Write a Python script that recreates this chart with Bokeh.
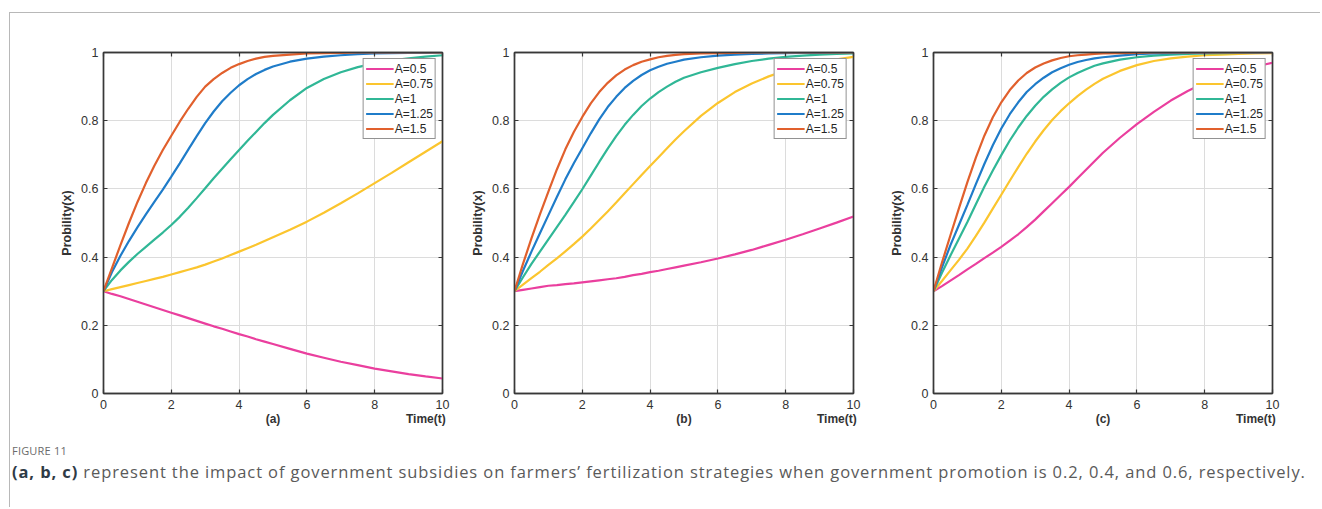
from bokeh.plotting import figure
from bokeh.models import (Range1d, FixedTicker, NumeralTickFormatter, LinearAxis,
                          Div, Column, Row)
from bokeh.embed import file_html
from bokeh.resources import INLINE

# ---------------- data ----------------
T = [0, 0.25, 0.5, 0.75, 1, 1.25, 1.5, 1.75, 2, 2.25, 2.5, 2.75, 3, 3.25, 3.5, 3.75,
     4, 4.25, 4.5, 4.75, 5, 5.5, 6, 6.5, 7, 7.5, 8, 8.5, 9, 9.5, 10]
LABELS = ["A=0.5", "A=0.75", "A=1", "A=1.25", "A=1.5"]
COLORS = ["#EA3F9E", "#FBC52E", "#30B796", "#1F7CC9", "#E1602D"]
X_TICKS = [0, 2, 4, 6, 8, 10]
Y_TICKS = [0, 0.2, 0.4, 0.6, 0.8, 1]
PANEL_TAGS = ["(a)", "(b)", "(c)"]
X_TITLE = "Time(t)"
Y_TITLE = "Probility(x)"

# panel (a): government promotion 0.2
a_05 = [0.300, 0.292, 0.285, 0.277, 0.269, 0.261, 0.253, 0.245, 0.237, 0.229, 0.221,
        0.213, 0.205, 0.197, 0.190, 0.182, 0.174, 0.167, 0.159, 0.152, 0.145,
        0.131, 0.117, 0.105, 0.093, 0.083, 0.073, 0.065, 0.057, 0.050, 0.044]
a_075 = [0.300, 0.306, 0.312, 0.318, 0.324, 0.330, 0.336, 0.342, 0.349, 0.356, 0.363,
         0.370, 0.378, 0.387, 0.396, 0.406, 0.416, 0.426, 0.436, 0.447, 0.458,
         0.480, 0.504, 0.530, 0.558, 0.587, 0.617, 0.647, 0.678, 0.709, 0.740]
a_1 = [0.300, 0.333, 0.361, 0.386, 0.409, 0.430, 0.451, 0.472, 0.494, 0.518, 0.545,
       0.573, 0.602, 0.631, 0.659, 0.687, 0.714, 0.741, 0.767, 0.793, 0.817,
       0.860, 0.896, 0.922, 0.942, 0.957, 0.968, 0.977, 0.983, 0.988, 0.992]
a_125 = [0.300, 0.356, 0.404, 0.447, 0.487, 0.525, 0.562, 0.598, 0.636, 0.675, 0.715,
         0.755, 0.793, 0.827, 0.857, 0.882, 0.904, 0.922, 0.937, 0.949, 0.959,
         0.973, 0.982, 0.988, 0.992, 0.995, 0.997, 0.998, 0.999, 0.999, 1.000]
a_15 = [0.300, 0.368, 0.435, 0.500, 0.561, 0.617, 0.668, 0.714, 0.756, 0.797, 0.835,
        0.870, 0.900, 0.922, 0.940, 0.955, 0.966, 0.975, 0.982, 0.987, 0.990,
        0.994, 0.997, 0.998, 0.999, 1.000, 1.000, 1.000, 1.000, 1.000, 1.000]

# panel (b): government promotion 0.4
b_05 = [0.300, 0.304, 0.308, 0.312, 0.316, 0.318, 0.321, 0.323, 0.326, 0.329, 0.332,
        0.335, 0.338, 0.342, 0.347, 0.351, 0.356, 0.360, 0.365, 0.370, 0.375,
        0.385, 0.396, 0.408, 0.421, 0.436, 0.451, 0.467, 0.484, 0.501, 0.519]
b_075 = [0.300, 0.319, 0.338, 0.357, 0.377, 0.396, 0.417, 0.438, 0.460, 0.484, 0.509,
         0.534, 0.560, 0.587, 0.614, 0.641, 0.667, 0.693, 0.719, 0.745, 0.769,
         0.814, 0.852, 0.884, 0.909, 0.930, 0.947, 0.960, 0.971, 0.980, 0.987]
b_1 = [0.300, 0.341, 0.380, 0.416, 0.452, 0.488, 0.524, 0.561, 0.599, 0.639, 0.679,
       0.718, 0.755, 0.788, 0.817, 0.843, 0.865, 0.884, 0.900, 0.914, 0.926,
       0.942, 0.955, 0.966, 0.975, 0.982, 0.987, 0.991, 0.994, 0.996, 0.997]
b_125 = [0.300, 0.360, 0.416, 0.470, 0.523, 0.576, 0.628, 0.675, 0.719, 0.763, 0.804,
         0.840, 0.870, 0.896, 0.917, 0.934, 0.948, 0.958, 0.967, 0.973, 0.979,
         0.986, 0.991, 0.994, 0.996, 0.997, 0.998, 0.999, 0.999, 1.000, 1.000]
b_15 = [0.300, 0.380, 0.455, 0.525, 0.592, 0.657, 0.716, 0.767, 0.811, 0.851, 0.884,
        0.911, 0.933, 0.950, 0.963, 0.973, 0.980, 0.986, 0.990, 0.993, 0.995,
        0.997, 0.998, 0.999, 1.000, 1.000, 1.000, 1.000, 1.000, 1.000, 1.000]

# panel (c): government promotion 0.6
c_05 = [0.300, 0.315, 0.331, 0.347, 0.364, 0.380, 0.397, 0.413, 0.430, 0.448, 0.467,
        0.488, 0.510, 0.534, 0.558, 0.582, 0.606, 0.631, 0.656, 0.681, 0.706,
        0.750, 0.790, 0.826, 0.859, 0.887, 0.911, 0.930, 0.946, 0.959, 0.970]
c_075 = [0.300, 0.330, 0.361, 0.392, 0.425, 0.462, 0.501, 0.542, 0.583, 0.624, 0.664,
         0.703, 0.739, 0.772, 0.802, 0.828, 0.851, 0.872, 0.891, 0.908, 0.923,
         0.946, 0.963, 0.975, 0.983, 0.988, 0.992, 0.994, 0.996, 0.997, 0.998]
c_1 = [0.300, 0.354, 0.405, 0.454, 0.503, 0.555, 0.606, 0.654, 0.699, 0.742, 0.780,
       0.814, 0.844, 0.870, 0.892, 0.911, 0.927, 0.940, 0.951, 0.961, 0.968,
       0.979, 0.986, 0.991, 0.994, 0.996, 0.997, 0.998, 0.999, 0.999, 1.000]
c_125 = [0.300, 0.370, 0.435, 0.494, 0.553, 0.614, 0.673, 0.728, 0.777, 0.819, 0.854,
         0.884, 0.907, 0.926, 0.942, 0.954, 0.964, 0.972, 0.978, 0.983, 0.986,
         0.991, 0.995, 0.997, 0.998, 0.999, 0.999, 1.000, 1.000, 1.000, 1.000]
c_15 = [0.300, 0.384, 0.464, 0.543, 0.620, 0.692, 0.756, 0.810, 0.854, 0.890, 0.918,
        0.940, 0.956, 0.968, 0.977, 0.984, 0.989, 0.992, 0.994, 0.996, 0.997,
        0.998, 0.999, 1.000, 1.000, 1.000, 1.000, 1.000, 1.000, 1.000, 1.000]

PANELS = [[a_05, a_075, a_1, a_125, a_15],
          [b_05, b_075, b_1, b_125, b_15],
          [c_05, c_075, c_1, c_125, c_15]]

CAPTION_HEAD = "FIGURE 11"
CAPTION_BOLD = "(a, b, c)"
CAPTION_TEXT = (" represent the impact of government subsidies on farmers\u2019 fertilization "
                "strategies when government promotion is 0.2, 0.4, and 0.6, respectively.")

# ---------------- styling ----------------
AX = "#383838"
TICK_FONT = "Liberation Sans"
LEFT_BORDERS = [93, 62, 70]
RIGHT_BORDERS = [10, 10, 30]


def style_axis(ax, ticks, show_labels=True):
    ax.ticker = FixedTicker(ticks=ticks)
    ax.formatter = NumeralTickFormatter(format="0.[0]")
    ax.major_tick_in = 4
    ax.major_tick_out = 0
    ax.minor_tick_line_color = None
    ax.axis_line_color = AX
    ax.axis_line_width = 1.4
    ax.major_tick_line_color = AX
    ax.major_tick_line_width = 1.2
    ax.major_label_text_font = TICK_FONT
    ax.major_label_text_color = "#333333"
    ax.major_label_text_font_size = "12.5px"
    if not show_labels:
        ax.major_label_text_color = None
        ax.major_label_text_font_size = "0px"
        ax.major_label_standoff = 0


def make_panel(series, tag, lb, rb):
    p = figure(frame_width=339, frame_height=341,
               min_border_left=lb, min_border_right=rb,
               min_border_top=39, min_border_bottom=40,
               x_range=Range1d(0, 10), y_range=Range1d(0, 1),
               output_backend="svg", toolbar_location=None, tools="",
               background_fill_color="white", border_fill_color="white",
               outline_line_color=AX, outline_line_width=1.4)
    p.grid.grid_line_color = "#dcdcdc"
    p.grid.grid_line_width = 1
    p.xgrid.ticker = FixedTicker(ticks=X_TICKS)
    p.ygrid.ticker = FixedTicker(ticks=Y_TICKS)

    for ys, lab, col in zip(series, LABELS, COLORS):
        p.line(T, ys, line_color=col, line_width=2.2, legend_label=lab)

    style_axis(p.xaxis[0], X_TICKS)
    style_axis(p.yaxis[0], Y_TICKS)
    p.xaxis.major_label_standoff = 6
    p.yaxis.major_label_standoff = 5
    p.yaxis.axis_label = Y_TITLE
    p.yaxis.axis_label_standoff = 4
    p.yaxis.axis_label_text_font = TICK_FONT
    p.yaxis.axis_label_text_font_style = "bold"
    p.yaxis.axis_label_text_font_size = "12.5px"
    p.yaxis.axis_label_text_color = "#333333"

    # second row under the x axis: panel tag centred, "Time(t)" near the right end
    names = LinearAxis(ticker=FixedTicker(ticks=[5, 9.51]),
                       major_label_overrides={5: tag, 9.51: X_TITLE},
                       axis_line_color=None, major_tick_line_color=None,
                       minor_tick_line_color=None, major_tick_in=0, major_tick_out=0,
                       major_label_standoff=0,
                       major_label_text_font=TICK_FONT,
                       major_label_text_font_style="bold",
                       major_label_text_font_size="12px",
                       major_label_text_color="#333333")
    p.add_layout(names, "below")

    top = LinearAxis()
    style_axis(top, X_TICKS, show_labels=False)
    p.add_layout(top, "above")
    right = LinearAxis()
    style_axis(right, Y_TICKS, show_labels=False)
    p.add_layout(right, "right")

    lg = p.legend[0]
    lg.location = "top_right"
    lg.margin = 6
    lg.padding = 2
    lg.spacing = 0
    lg.glyph_width = 28
    lg.glyph_height = 15
    lg.label_height = 15
    lg.label_standoff = 1
    lg.label_text_font = TICK_FONT
    lg.label_text_font_size = "12px"
    lg.label_text_color = "#262626"
    lg.border_line_color = "#262626"
    lg.border_line_width = 1.3
    lg.background_fill_alpha = 1
    return p


figs = [make_panel(s, t, lb, rb)
        for s, t, lb, rb in zip(PANELS, PANEL_TAGS, LEFT_BORDERS, RIGHT_BORDERS)]

caption = Div(
    text=(f'<div style="font-family:\'Open Sans\';font-size:11px;line-height:14px;'
          f'color:#6a6a6a;margin-top:11px;padding-left:2px;letter-spacing:0.2px;">'
          f'{CAPTION_HEAD}</div>'
          f'<div style="font-family:\'Open Sans\';font-size:16.5px;line-height:20px;'
          f'letter-spacing:0.9px;color:#5a5a5a;margin-top:4px;padding-left:2px;'
          f'white-space:nowrap;">'
          f'<b style="color:#2f3b46;">{CAPTION_BOLD}</b>{CAPTION_TEXT}</div>'),
    width=1310, height=74, margin=0)

panel_row = Row(children=figs, spacing=0, margin=0)
root = Column(children=[panel_row, caption], spacing=0, margin=(12, 0, 0, 9),
              styles={"border-top": "1px solid #b8b8b8",
                      "border-left": "1px solid #b8b8b8"})

open("out.html", "w").write(file_html(root, INLINE))
